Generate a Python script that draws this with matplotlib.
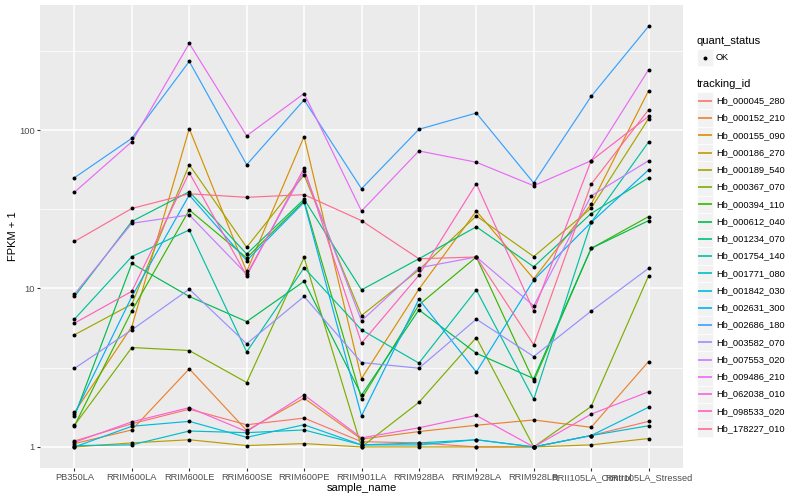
import numpy as np
import matplotlib
matplotlib.use("Agg")
import matplotlib.pyplot as plt
from matplotlib.patches import Rectangle
from matplotlib.ticker import FixedLocator, NullFormatter

plt.rcParams["font.family"] = ["Liberation Sans", "DejaVu Sans"]

# --- data ---
samples = ["PB350LA", "RRIM600LA", "RRIM600LE", "RRIM600SE", "RRIM600PE",
           "RRIM901LA", "RRIM928BA", "RRIM928LA", "RRIM928LB",
           "RRII105LA_Control", "RRII105LA_Stressed"]

tracking_ids = ["Hb_000045_280", "Hb_000152_210", "Hb_000155_090", "Hb_000186_270",
                "Hb_000189_540", "Hb_000367_070", "Hb_000394_110", "Hb_000612_040",
                "Hb_001234_070", "Hb_001754_140", "Hb_001771_080", "Hb_001842_030",
                "Hb_002631_300", "Hb_002686_180", "Hb_003582_070", "Hb_007553_020",
                "Hb_009486_210", "Hb_062038_010", "Hb_098533_020", "Hb_178227_010"]

# FPKM + 1 per sample, one list per tracking_id
hb_000045_280 = [1.09, 1.40, 1.73, 1.38, 1.52, 1.08, 1.06, 1.00, 1.00, 1.18, 1.45]
hb_000152_210 = [1.05, 1.28, 3.11, 1.27, 2.03, 1.12, 1.25, 1.37, 1.48, 1.33, 3.46]
hb_000155_090 = [1.65, 5.75, 102, 12.8, 91, 2.70, 9.9, 30.8, 11.5, 34, 177]
hb_000186_270 = [1.00, 1.06, 1.11, 1.02, 1.05, 1.00, 1.00, 1.00, 1.00, 1.03, 1.13]
hb_000189_540 = [5.1, 7.96, 60.4, 18.2, 52, 6.75, 13.1, 28.7, 15.9, 32.1, 118]
hb_000367_070 = [1.37, 4.24, 4.06, 2.55, 15.7, 1.00, 1.91, 4.9, 1.00, 1.80, 12.0]
hb_000394_110 = [1.36, 7.22, 31.3, 15.6, 35.7, 2.01, 7.88, 15.8, 2.60, 17.9, 28.4]
hb_000612_040 = [1.56, 14.4, 8.9, 6.18, 11.1, 2.12, 7.33, 3.9, 2.70, 17.9, 26.8]
hb_001234_070 = [8.9, 26.5, 40.8, 16.5, 36.6, 9.8, 15.4, 24.5, 13.7, 29.7, 50]
hb_001754_140 = [6.4, 15.9, 23.4, 3.98, 13.5, 5.48, 3.38, 9.8, 2.00, 26.1, 84]
hb_001771_080 = [1.02, 1.03, 1.26, 1.23, 1.28, 1.03, 1.06, 1.11, 1.00, 1.18, 1.36]
hb_001842_030 = [1.00, 1.35, 1.45, 1.15, 1.38, 1.03, 1.03, 1.11, 1.00, 1.18, 1.78]
hb_002631_300 = [1.61, 8.9, 38.9, 15.0, 35.0, 1.57, 8.56, 2.97, 11.3, 26.1, 56]
hb_002686_180 = [50, 88.7, 271, 60.4, 155, 42.6, 101, 128, 46.3, 163, 451]
hb_003582_070 = [3.13, 5.48, 9.9, 4.48, 8.9, 3.41, 3.14, 6.4, 3.72, 7.2, 13.4]
hb_007553_020 = [9.2, 25.8, 29.1, 12.3, 55, 6.25, 13.5, 15.8, 7.77, 38.4, 64]
hb_009486_210 = [40.5, 84.4, 352, 92, 170, 30.8, 73.8, 62.6, 44.5, 64, 240]
hb_062038_010 = [1.07, 1.44, 1.77, 1.25, 2.13, 1.14, 1.32, 1.58, 1.00, 1.61, 2.23]
hb_098533_020 = [6.04, 9.6, 53.8, 12.0, 57.6, 4.52, 12.1, 45.9, 7.2, 64, 122]
hb_178227_010 = [19.8, 32, 39.6, 37.6, 39.1, 26.8, 15.4, 15.8, 4.41, 45.5, 134]

series = [hb_000045_280, hb_000152_210, hb_000155_090, hb_000186_270, hb_000189_540,
          hb_000367_070, hb_000394_110, hb_000612_040, hb_001234_070, hb_001754_140,
          hb_001771_080, hb_001842_030, hb_002631_300, hb_002686_180, hb_003582_070,
          hb_007553_020, hb_009486_210, hb_062038_010, hb_098533_020, hb_178227_010]

# ggplot default hue palette, 20 levels
colors = ["#F8766D", "#EA8331", "#D89000", "#C09B00", "#A3A500", "#7CAE00", "#39B600",
          "#00BB4E", "#00BF7D", "#00C1A3", "#00BFC4", "#00BAE0", "#00B0F6", "#35A2FF",
          "#9590FF", "#C77CFF", "#E76BF3", "#FA62DB", "#FF62BC", "#FF6C91"]

W, H = 800, 500
fig = plt.figure(figsize=(8, 5), dpi=100)
left, right, top, bottom = 40, 683, 5, 468
ax = fig.add_axes([left / W, 1 - bottom / H, (right - left) / W, (bottom - top) / H])
ax.set_facecolor("#EBEBEB")
for s in ax.spines.values():
    s.set_visible(False)

x = np.arange(len(samples))
for vals, c in zip(series, colors):
    ax.plot(x, vals, color=c, lw=0.85, zorder=2)
for vals in series:
    ax.scatter(x, vals, s=8, color="black", zorder=3, linewidths=0)

ax.set_yscale("log")
ax.set_ylim(10 ** -0.133, 10 ** 2.789)
ax.set_xlim(-0.6, len(samples) - 0.4)
ax.set_yticks([1, 10, 100])
ax.set_yticklabels(["1", "10", "100"])
ax.yaxis.set_minor_locator(FixedLocator([10 ** 0.5, 10 ** 1.5, 10 ** 2.5]))
ax.yaxis.set_minor_formatter(NullFormatter())
ax.set_xticks(x)
ax.set_xticklabels(samples)
ax.set_axisbelow(True)
ax.grid(True, which="major", color="white", lw=1.1)
ax.grid(True, which="minor", axis="y", color="white", lw=0.55)
ax.tick_params(which="major", length=2.2, width=0.8, color="#333333",
               labelsize=6.7, labelcolor="#4D4D4D", pad=1.5)
ax.tick_params(which="minor", length=0)

fig.text(361.5 / W, 1 - 488 / H, "sample_name", ha="center", va="center", fontsize=8)
fig.text(13 / W, 1 - 236.5 / H, "FPKM + 1", ha="center", va="center",
         rotation=90, fontsize=8)

# --- legends, drawn in pixel coordinates ---
lax = fig.add_axes([0, 0, 1, 1])
lax.set_xlim(0, W)
lax.set_ylim(H, 0)
lax.axis("off")

kx, kw, kh = 696.5, 16.5, 17.26
lax.text(kx, 40.7, "quant_status", fontsize=8, va="center", ha="left")
lax.add_patch(Rectangle((kx, 49), kw, kh, facecolor="#F2F2F2", edgecolor="white",
                        lw=0.5, zorder=1))
lax.scatter([kx + kw / 2], [49 + kh / 2], s=8, color="black", linewidths=0, zorder=3)
lax.text(716, 49 + kh / 2, "OK", fontsize=6.7, va="center", ha="left")

lax.text(kx, 84, "tracking_id", fontsize=8, va="center", ha="left")
y0 = 92.1
for i, (tid, c) in enumerate(zip(tracking_ids, colors)):
    yk = y0 + i * kh
    lax.add_patch(Rectangle((kx, yk), kw, kh, facecolor="#F2F2F2", edgecolor="white",
                            lw=0.5, zorder=1))
    lax.plot([kx + 1.5, kx + kw - 1.5], [yk + kh / 2] * 2, color=c, lw=1.2,
             solid_capstyle="butt", zorder=3)
    lax.text(716, yk + kh / 2, tid, fontsize=6.7, va="center", ha="left")

fig.savefig("out.png", dpi=100)
